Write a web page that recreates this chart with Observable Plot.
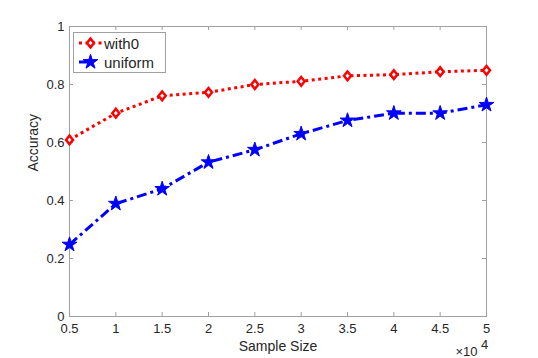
<!DOCTYPE html>
<html>
<head>
<meta charset="utf-8">
<script src="https://cdn.jsdelivr.net/npm/d3@7"></script>
<script src="https://cdn.jsdelivr.net/npm/@observablehq/plot@0.6"></script>
<style>
  html, body { margin: 0; padding: 0; background: #fff; }
  #wrap { position: relative; width: 538px; height: 358px; font-family: "Liberation Sans", Arial, sans-serif; }
  #legend { position: absolute; left: 73px; top: 32px; width: 93px; height: 41px; border: 1px solid #a0a0a0; background: #fff; box-sizing: border-box; }
  .row { position: absolute; left: 0; height: 18px; display: flex; align-items: center; font-size: 15px; color: #262626; }
  .row svg { display: block; margin-right: 1px; }
</style>
</head>
<body>
<div id="wrap"></div>
<script>
// Data (x in units of 10^4)
const sampleSize = [0.5, 1, 1.5, 2, 2.5, 3, 3.5, 4, 4.5, 5];
const with0 = [0.609, 0.701, 0.761, 0.773, 0.800, 0.811, 0.830, 0.834, 0.844, 0.849];
const uniform = [0.248, 0.389, 0.440, 0.532, 0.575, 0.630, 0.676, 0.701, 0.701, 0.730];
const xTicks = [0.5, 1, 1.5, 2, 2.5, 3, 3.5, 4, 4.5, 5];
const yTicks = [0, 0.2, 0.4, 0.6, 0.8, 1];
const seriesNames = ["with0", "uniform"];

const rowsWith0 = sampleSize.map((x, i) => ({x, y: with0[i]}));
const rowsUniform = sampleSize.map((x, i) => ({x, y: uniform[i]}));

const diamond = {
  draw(ctx, size) {
    const r = Math.sqrt(size / Math.PI);
    const w = r * 1.0, h = r * 1.25;
    ctx.moveTo(0, -h); ctx.lineTo(w, 0); ctx.lineTo(0, h); ctx.lineTo(-w, 0); ctx.closePath();
  }
};

const axisColor = "#a0a0a0";
const textColor = "#262626";
const W = 538, H = 358;
const mL = 69, mR = 52, mT = 26, mB = 42;
const plotH = H - mT - mB, plotW = W - mL - mR;

const chart = Plot.plot({
  width: W,
  height: H,
  marginLeft: mL,
  marginRight: mR,
  marginTop: mT,
  marginBottom: mB,
  style: {fontFamily: "Liberation Sans, Arial, sans-serif", fontSize: "13px", color: textColor, background: "#fff"},
  x: {domain: [0.5, 5]},
  y: {domain: [0, 1]},
  marks: [
    Plot.frame({stroke: axisColor}),
    // inward ticks: bottom / top
    Plot.tickX(xTicks, {x: d => d, stroke: axisColor, insetTop: plotH - 4}),
    Plot.tickX(xTicks, {x: d => d, stroke: axisColor, insetBottom: plotH - 4}),
    // inward ticks: left / right
    Plot.tickY(yTicks, {y: d => d, stroke: axisColor, insetRight: plotW - 4}),
    Plot.tickY(yTicks, {y: d => d, stroke: axisColor, insetLeft: plotW - 4}),
    Plot.axisX(xTicks, {tickSize: 0, tickPadding: 7, label: null, fontSize: 13, fill: textColor, tickFormat: d => String(d)}),
    Plot.axisY(yTicks, {tickSize: 0, tickPadding: 5, label: null, fontSize: 13, fill: textColor, tickFormat: d => String(d)}),
    Plot.text(["Sample Size"], {frameAnchor: "bottom", dy: 34, text: d => d, fontSize: 14, fill: textColor}),
    Plot.text(["Accuracy"], {frameAnchor: "left", dx: -36, rotate: -90, text: d => d, fontSize: 14, fill: textColor}),
    Plot.text(["\u00d710"], {frameAnchor: "bottom-right", dx: -9, dy: 39, textAnchor: "end", text: d => d, fontSize: 13, fill: textColor}),
    Plot.text(["4"], {frameAnchor: "bottom-right", dx: -2, dy: 32, textAnchor: "middle", text: d => d, fontSize: 13, fill: textColor}),
    // series
    Plot.line(rowsWith0, {x: "x", y: "y", stroke: "#ff0000", strokeWidth: 3, strokeDasharray: "3,3.5", strokeLinecap: "butt"}),
    Plot.line(rowsUniform, {x: "x", y: "y", stroke: "#0000ff", strokeWidth: 3, strokeDasharray: "10,4,3,4", strokeLinecap: "butt"}),
    Plot.dot(rowsWith0, {x: "x", y: "y", symbol: diamond, r: 3.5, fill: "#fff", stroke: "#ff0000", strokeWidth: 2.5}),
    Plot.dot(rowsUniform, {x: "x", y: "y", symbol: "star", r: 4.6, fill: "#0000ff", stroke: "#0000ff", strokeWidth: 1})
  ]
});

const wrap = document.getElementById("wrap");
wrap.appendChild(chart);

// Legend overlay
const legend = document.createElement("div");
legend.id = "legend";
wrap.appendChild(legend);
const styles = [
  {name: seriesNames[0], color: "#ff0000", kind: "diamond"},
  {name: seriesNames[1], color: "#0000ff", kind: "star"}
];
styles.forEach((s, i) => {
  const row = document.createElement("div");
  row.className = "row";
  row.style.top = (i === 0 ? 1 : 20) + "px";
  row.style.left = "4px";
  const svg = d3.create("svg").attr("width", 25).attr("height", 18);
  svg.append("line").attr("x1", 1).attr("x2", 24).attr("y1", 9).attr("y2", 9)
    .attr("stroke", s.color).attr("stroke-width", 3).attr("stroke-dasharray", s.kind === "diamond" ? "3,3.5" : "12,20");
  if (s.kind === "diamond") {
    svg.append("path").attr("transform", "translate(12.5,9)")
      .attr("d", "M0,-4.4L3.5,0L0,4.4L-3.5,0Z")
      .attr("fill", "#fff").attr("stroke", s.color).attr("stroke-width", 2.5);
  } else {
    svg.append("path").attr("transform", "translate(12.5,9)")
      .attr("d", d3.symbol(d3.symbolStar, Math.PI * 4.6 * 4.6)())
      .attr("fill", s.color).attr("stroke", s.color).attr("stroke-width", 1);
  }
  row.appendChild(svg.node());
  const span = document.createElement("span");
  span.textContent = s.name;
  row.appendChild(span);
  legend.appendChild(row);
});
</script>
</body>
</html>
